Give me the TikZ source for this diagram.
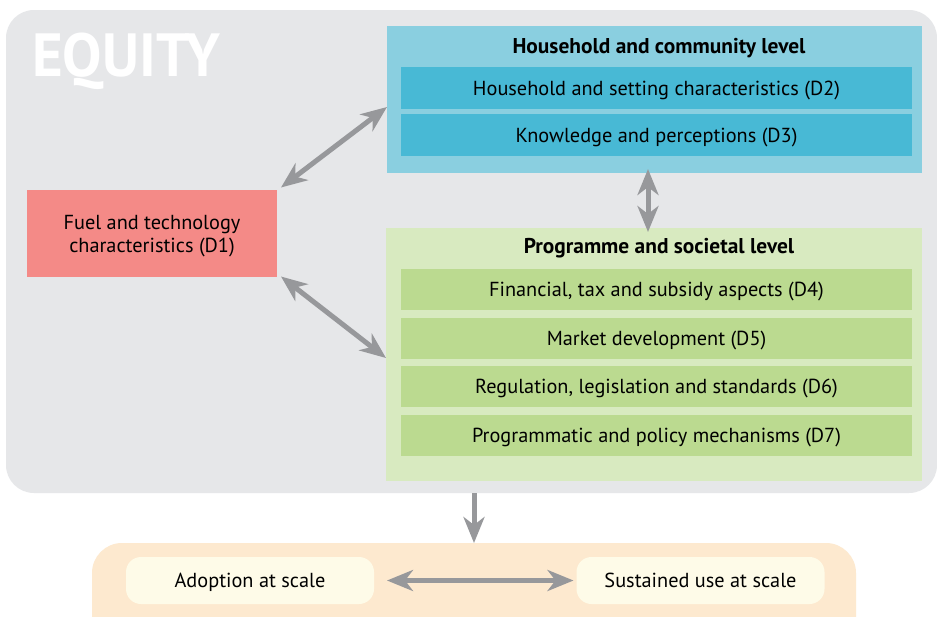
\documentclass[tikz,border=0pt]{standalone}
\usepackage{fontspec}
\setmainfont{PT Sans}
\usetikzlibrary{arrows.meta}
\definecolor{eqgray}{HTML}{E6E7E9}
\definecolor{hhout}{HTML}{8ACFE0}
\definecolor{hhin}{HTML}{48B9D5}
\definecolor{prout}{HTML}{D8EAC0}
\definecolor{prin}{HTML}{BBDA90}
\definecolor{fuelred}{HTML}{F48A87}
\definecolor{outorange}{HTML}{FDE9CF}
\definecolor{outcream}{HTML}{FEFBE8}
\definecolor{arrgray}{HTML}{97989B}
\tikzset{
  box/.style={inner sep=0pt, outer sep=0pt, align=center, font=\fontsize{20.3}{24}\selectfont},
  inhh/.style={box, fill=hhin, minimum width=511pt, minimum height=42pt},
  inpr/.style={box, fill=prin, minimum width=511pt, minimum height=41pt},
  txt/.style={inner sep=0pt, font=\fontsize{20.3}{24}\selectfont, anchor=base},
  title/.style={font=\fontsize{21.4}{24}\selectfont\bfseries, inner sep=0pt, anchor=base},
  outbox/.style={box, fill=outcream, rounded corners=15pt, minimum width=248pt, minimum height=47pt},
  arr/.style={draw=arrgray, line width=5pt, {Stealth[length=26pt,width=21pt,inset=8pt]}-{Stealth[length=26pt,width=21pt,inset=8pt]}},
  darr/.style={draw=arrgray, line width=5pt, -{Stealth[length=26pt,width=21pt,inset=8pt]}}
}
\begin{document}
\begin{tikzpicture}[x=1pt,y=-1pt]
\clip (0,0) rectangle (937,616);
\fill[white] (0,0) rectangle (937,616);
% gray equity box
\node[box, fill=eqgray, rounded corners=28pt, minimum width=931pt, minimum height=483pt] (equity) at (471.5,251.5) {};
\node[anchor=base west, inner sep=0pt, text=white, font=\fontsize{61}{62}\selectfont\bfseries] (eqlabel) at (32,76) {\scalebox{0.965}[1]{EQUITY}};
% household level
\node[box, fill=hhout, minimum width=535pt, minimum height=147pt] (hh) at (654.5,99.5) {};
\node[title] (hhtitle) at (659,53) {Household and community level};
\node[inhh] (d2) at (656.5,88) {};
\node[txt] (d2t) at (656.5,95) {Household and setting characteristics (D2)};
\node[inhh] (d3) at (656.5,135) {};
\node[txt] (d3t) at (656.5,142) {Knowledge and perceptions (D3)};
% programme level
\node[box, fill=prout, minimum width=536pt, minimum height=253pt] (pr) at (654,354.5) {};
\node[title] (prtitle) at (659,253) {Programme and societal level};
\node[inpr] (d4) at (656.5,289.5) {};
\node[txt] (d4t) at (656.5,296.5) {Financial, tax and subsidy aspects (D4)};
\node[inpr] (d5) at (656.5,338.5) {};
\node[txt] (d5t) at (656.5,345.5) {Market development (D5)};
\node[inpr] (d6) at (656.5,386.5) {};
\node[txt] (d6t) at (656.5,393.5) {Regulation, legislation and standards (D6)};
\node[inpr] (d7) at (656.5,435.5) {};
\node[txt] (d7t) at (656.5,442.5) {Programmatic and policy mechanisms (D7)};
% fuel
\node[box, fill=fuelred, minimum width=250pt, minimum height=87pt] (d1) at (152,233) {};
\node[txt] (d1a) at (152,229) {Fuel and technology};
\node[txt] (d1b) at (152,252) {characteristics (D1)};
% outcomes
\node[box, fill=outorange, rounded corners=30pt, minimum width=764pt, minimum height=110pt] (out) at (474,598) {};
\node[outbox] (adopt) at (250,580.5) {};
\node[txt] (adoptt) at (250,587.5) {Adoption at scale};
\node[outbox] (sust) at (700.5,580.5) {};
\node[txt] (sustt) at (700.5,587.5) {Sustained use at scale};
% arrows
\draw[arr] ([xshift=4pt,yshift=2pt]d1.north east) -- ([yshift=-7.5pt]hh.west);
\draw[arr] ([xshift=4pt]d1.south east) -- ([yshift=-3.5pt]pr.west);
\draw[arr] ([xshift=-6.5pt,yshift=4pt]hh.south) -- ([xshift=-6pt,yshift=-4pt]pr.north);
\draw[darr] (out.north |- equity.south) -- (out.north);
\draw[arr] ([xshift=13pt]adopt.east) -- ([xshift=-3pt]sust.west);
\end{tikzpicture}
\end{document}
